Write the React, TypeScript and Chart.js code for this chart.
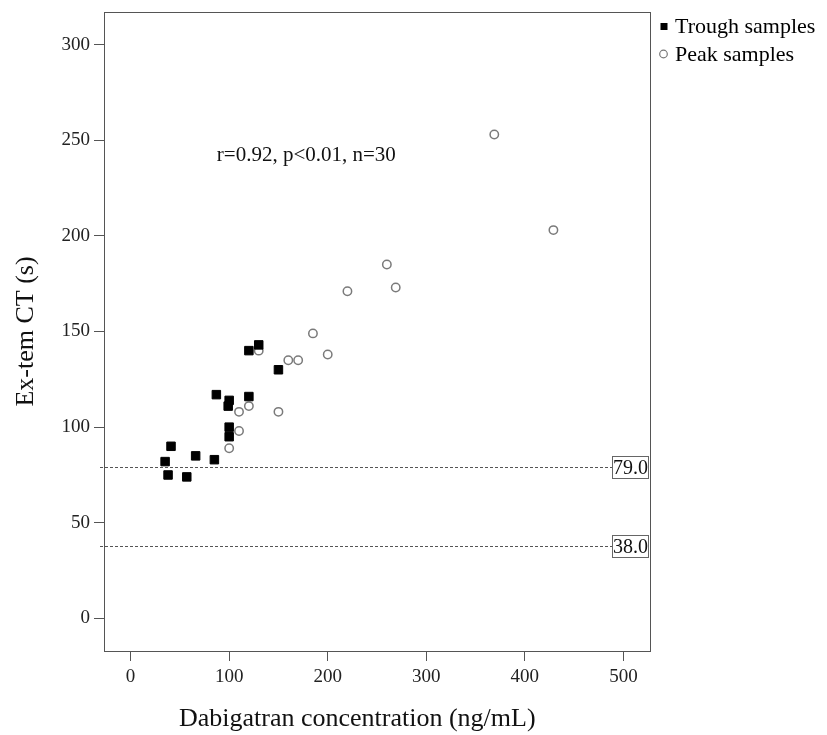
import { useEffect, useRef } from "react";
import { Chart, registerables } from "chart.js";

Chart.register(...registerables);

const troughX = [35, 41, 38, 57, 66, 85, 87, 100, 99, 100, 100, 120, 120, 130, 150];
const troughY = [82, 90, 75, 74, 85, 83, 117, 114, 111, 100, 95, 116, 140, 143, 130];
const peakX = [100, 110, 110, 120, 130, 150, 160, 170, 185, 200, 220, 260, 269, 369, 429];
const peakY = [89, 98, 108, 111, 140, 108, 135, 135, 149, 138, 171, 185, 173, 253, 203];

const xTicks = [0, 100, 200, 300, 400, 500];
const yTicks = [0, 50, 100, 150, 200, 250, 300];
const refLines = [79, 38];
const refLabels = ["79.0", "38.0"];

const seriesNames = ["Trough samples", "Peak samples"];
const annotationText = "r=0.92, p<0.01, n=30";
const xTitle = "Dabigatran concentration (ng/mL)";
const yTitle = "Ex-tem CT (s)";

const SERIF = "'Liberation Serif', 'Times New Roman', serif";

export default function App() {
  const ref = useRef<HTMLCanvasElement | null>(null);

  useEffect(() => {
    const canvas = ref.current;
    if (!canvas) return;

    const overlay = {
      id: "overlay",
      beforeDatasetsDraw(chart: any) {
        const { ctx, chartArea: a, scales } = chart;
        ctx.save();
        refLines.forEach((v, i) => {
          const y = Math.round(scales.y.getPixelForValue(v)) + 0.5;
          const boxL = Math.round(a.right) - 38;
          ctx.strokeStyle = "#555";
          ctx.lineWidth = 1;
          ctx.setLineDash([3, 2]);
          ctx.beginPath();
          ctx.moveTo(a.left - 4, y);
          ctx.lineTo(boxL, y);
          ctx.stroke();
          ctx.setLineDash([]);
          ctx.fillStyle = "#fff";
          ctx.fillRect(boxL, y - 11, 36, 22);
          ctx.strokeStyle = "#666";
          ctx.strokeRect(boxL + 0.5, y - 11, 36, 22);
          ctx.fillStyle = "#111";
          ctx.font = `20px ${SERIF}`;
          ctx.textAlign = "center";
          ctx.textBaseline = "middle";
          ctx.fillText(refLabels[i], boxL + 18.5, y + 1);
        });
        ctx.restore();
      },
      afterDraw(chart: any) {
        const { ctx, chartArea: a, scales } = chart;
        ctx.save();
        // frame
        ctx.strokeStyle = "#555";
        ctx.lineWidth = 1;
        ctx.strokeRect(
          Math.round(a.left) + 0.5,
          Math.round(a.top) + 0.5,
          Math.round(a.right - a.left),
          Math.round(a.bottom - a.top)
        );
        // annotation
        ctx.fillStyle = "#111";
        ctx.font = `21px ${SERIF}`;
        ctx.textAlign = "left";
        ctx.textBaseline = "middle";
        ctx.fillText(annotationText, scales.x.getPixelForValue(87.5), scales.y.getPixelForValue(242));
        // x title
        ctx.font = `26px ${SERIF}`;
        ctx.textAlign = "center";
        ctx.textBaseline = "alphabetic";
        ctx.fillText(xTitle, scales.x.getPixelForValue(230), 726);
        // legend
        const lx = a.right + 14;
        ctx.font = `22px ${SERIF}`;
        ctx.textAlign = "left";
        ctx.textBaseline = "middle";
        ctx.fillStyle = "#000";
        ctx.fillRect(lx - 3.5, 23, 7, 7);
        ctx.fillText(seriesNames[0], lx + 11, 27);
        ctx.beginPath();
        ctx.arc(lx - 0.5, 54, 3.8, 0, Math.PI * 2);
        ctx.strokeStyle = "#777";
        ctx.lineWidth = 1.2;
        ctx.stroke();
        ctx.fillStyle = "#000";
        ctx.fillText(seriesNames[1], lx + 11, 55);
        ctx.restore();
      },
    };

    const chart = new Chart(canvas, {
      type: "scatter",
      data: {
        datasets: [
          {
            label: seriesNames[0],
            data: troughX.map((x, i) => ({ x, y: troughY[i] })),
            pointStyle: "rect",
            pointRadius: 6,
            backgroundColor: "#000",
            borderColor: "#000",
            borderWidth: 1,
          },
          {
            label: seriesNames[1],
            data: peakX.map((x, i) => ({ x, y: peakY[i] })),
            pointStyle: "circle",
            pointRadius: 4.2,
            backgroundColor: "#fff",
            borderColor: "#7a7a7a",
            borderWidth: 1.5,
          },
        ],
      },
      options: {
        responsive: false,
        animation: false,
        layout: { padding: { top: 12, right: 177, left: 0, bottom: 0 } },
        plugins: { legend: { display: false }, tooltip: { enabled: false } },
        scales: {
          x: {
            type: "linear",
            min: -27,
            max: 527,
            afterBuildTicks: (s: any) => {
              s.ticks = xTicks.map((v) => ({ value: v }));
            },
            afterFit: (s: any) => {
              s.height = 84;
              s.paddingLeft = 0;
              s.paddingRight = 0;
            },
            grid: { drawOnChartArea: false, drawTicks: true, tickLength: 10, color: "#555" },
            border: { display: false },
            ticks: { font: { family: SERIF, size: 19 }, color: "#222", padding: 5, maxRotation: 0 },
            title: { display: false },
          },
          y: {
            type: "linear",
            min: -17,
            max: 317,
            afterBuildTicks: (s: any) => {
              s.ticks = yTicks.map((v) => ({ value: v }));
            },
            afterFit: (s: any) => {
              s.width = 104;
              s.paddingTop = 0;
              s.paddingBottom = 0;
            },
            grid: { drawOnChartArea: false, drawTicks: true, tickLength: 10, color: "#555" },
            border: { display: false },
            ticks: { font: { family: SERIF, size: 19 }, color: "#222", padding: 4 },
            title: {
              display: true,
              text: yTitle,
              font: { family: SERIF, size: 26 },
              color: "#111",
              padding: { top: 11, bottom: 0 },
            },
          },
        },
      },
      plugins: [overlay],
    });

    return () => chart.destroy();
  }, []);

  return (
    <div style={{ position: "absolute", left: 0, top: 0, width: 827, height: 735 }}>
      <canvas ref={ref} width={827} height={735} />
    </div>
  );
}
